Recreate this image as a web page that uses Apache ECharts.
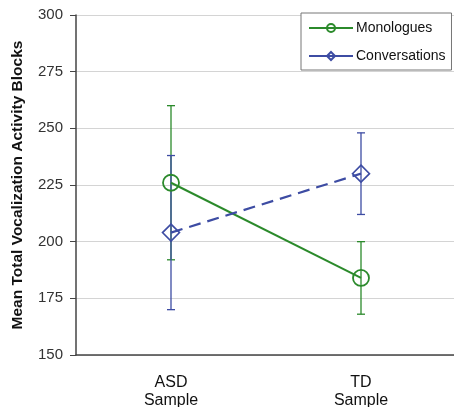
<!DOCTYPE html>
<html style="height: 100%">
<head>
    <meta charset="utf-8">
    <script src="https://cdn.jsdelivr.net/npm/echarts@6/dist/echarts.min.js"></script>
</head>
<body style="height: 100%; margin: 0; background: #fff">
<div id="main" style="width: 454px; height: 407px"></div>
<script type="text/javascript">
    // data
    var groups = ['ASD\nSample', 'TD\nSample'];
    var monoMean = [226, 184];
    var monoLow = [192, 168];
    var monoHigh = [260, 200];
    var convMean = [204, 230];
    var convLow = [170, 212];
    var convHigh = [238, 248];

    var green = '#2b8a2b';
    var blue = '#3d4ca3';

    var chart = echarts.init(document.getElementById('main'));

    // error bar as custom series
    function errBar(low, high, color) {
        var d = [];
        for (var i = 0; i < groups.length; i++) d.push([i, low[i], high[i]]);
        return {
            type: 'custom',
            data: d,
            z: 1,
            silent: true,
            renderItem: function (params, api) {
                var lo = api.coord([api.value(0), api.value(1)]);
                var hi = api.coord([api.value(0), api.value(2)]);
                var w = 4;
                var st = { stroke: color, lineWidth: 1.3 };
                return {
                    type: 'group',
                    children: [
                        { type: 'line', shape: { x1: lo[0], y1: lo[1], x2: hi[0], y2: hi[1] }, style: st },
                        { type: 'line', shape: { x1: lo[0] - w, y1: lo[1], x2: lo[0] + w, y2: lo[1] }, style: st },
                        { type: 'line', shape: { x1: hi[0] - w, y1: hi[1], x2: hi[0] + w, y2: hi[1] }, style: st }
                    ]
                };
            }
        };
    }

    var option = {
        animation: false,
        textStyle: { fontFamily: 'Liberation Sans' },
        grid: { left: 76, right: -2, top: 15, bottom: 52, outerBoundsMode: 'none' },
        legend: {
            orient: 'vertical',
            left: 301,
            top: 13,
            width: 150,
            padding: [8, 6, 7, 7],
            itemGap: 14,
            itemWidth: 44,
            itemHeight: 10,
            borderColor: '#777',
            borderWidth: 1,
            backgroundColor: '#fff',
            lineStyle: { type: 'solid' },
            textStyle: { fontSize: 14, color: '#111', padding: [0, 0, 0, -2] },
            data: ['Monologues', 'Conversations']
        },
        xAxis: {
            type: 'category',
            data: groups,
            axisLine: { lineStyle: { color: '#444', width: 1.5 } },
            axisTick: { alignWithLabel: true, length: 7, lineStyle: { color: '#444' } },
            axisLabel: { fontSize: 16, color: '#111', lineHeight: 18, margin: 19 }
        },
        yAxis: {
            type: 'value',
            min: 150,
            max: 300,
            interval: 25,
            name: 'Mean Total Vocalization Activity Blocks',
            nameLocation: 'middle',
            nameGap: 50,
            nameTextStyle: { fontSize: 15.5, fontWeight: 'bold', color: '#111' },
            axisLine: { show: true, lineStyle: { color: '#444', width: 1.5 } },
            axisTick: { show: true, length: 6, lineStyle: { color: '#444' } },
            axisLabel: { fontSize: 15, color: '#333', margin: 13 },
            splitLine: { lineStyle: { color: '#d4d4d4' } }
        },
        series: [
            errBar(monoLow, monoHigh, green),
            errBar(convLow, convHigh, blue),
            {
                name: 'Monologues',
                type: 'line',
                data: monoMean,
                z: 3,
                symbol: 'circle',
                symbolSize: 16,
                color: green,
                lineStyle: { color: green, width: 2 },
                itemStyle: { color: 'rgba(255,255,255,0)', borderColor: green, borderWidth: 1.8 }
            },
            {
                name: 'Conversations',
                type: 'line',
                data: convMean,
                z: 3,
                symbol: 'path://M0,-1L1,0L0,1L-1,0Z',
                symbolSize: 17,
                color: blue,
                lineStyle: { color: blue, width: 2.2, type: [12, 7] },
                itemStyle: { color: 'rgba(255,255,255,0)', borderColor: blue, borderWidth: 1.6 }
            }
        ]
    };
    chart.setOption(option);
</script>
</body>
</html>
